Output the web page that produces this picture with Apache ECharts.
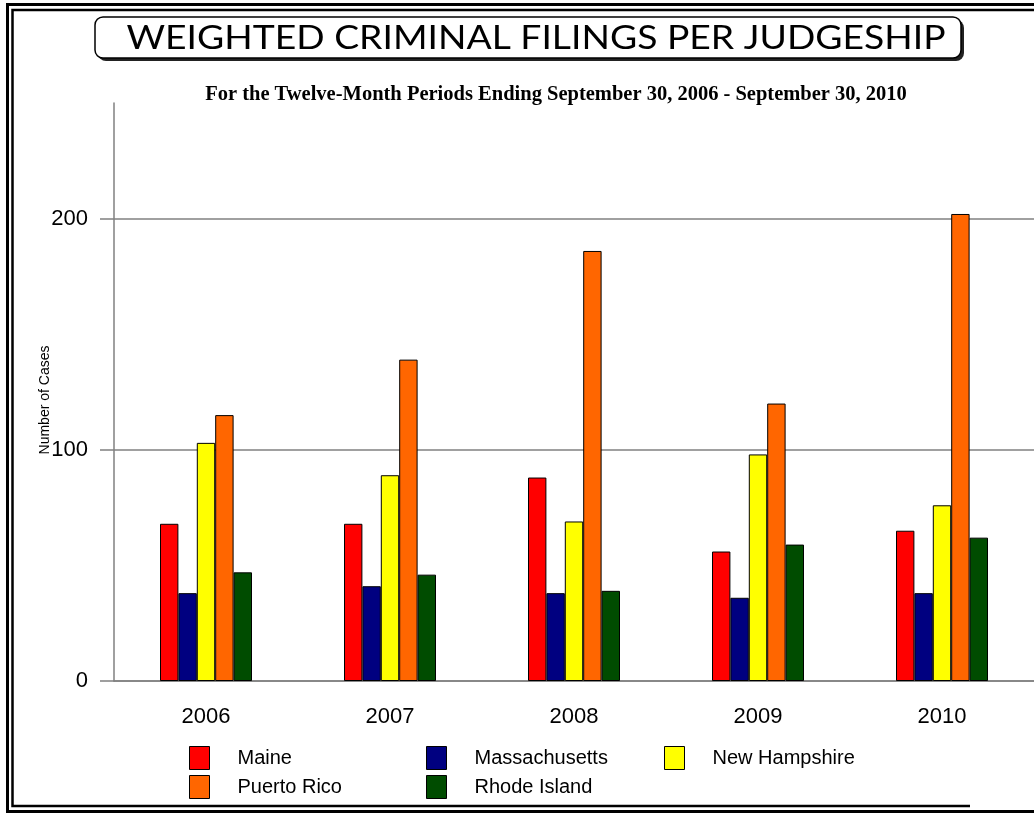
<!DOCTYPE html>
<html><head><meta charset="utf-8">
<script src="https://cdn.jsdelivr.net/npm/echarts@6/dist/echarts.min.js"></script>
<style>html,body{margin:0;padding:0;background:#fff}#c{width:1034px;height:813px}</style>
</head><body><div id="c"></div>
<script>
const categories = ['2006', '2007', '2008', '2009', '2010'];
const maine = [68, 68, 88, 56, 65];
const massachusetts = [38, 41, 38, 36, 38];
const newHampshire = [103, 89, 69, 98, 76];
const puertoRico = [115, 139, 186, 120, 202];
const rhodeIsland = [47, 46, 39, 59, 62];
const yTicks = [0, 100, 200];
const titleText = 'WEIGHTED CRIMINAL FILINGS PER JUDGESHIP';
const subtitleText = 'For the Twelve-Month Periods Ending September 30, 2006 - September 30, 2010';

const seriesDefs = [
  ['Maine', maine, '#FF0000'],
  ['Massachusetts', massachusetts, '#000080'],
  ['New Hampshire', newHampshire, '#FFFF00'],
  ['Puerto Rico', puertoRico, '#FF6600'],
  ['Rhode Island', rhodeIsland, '#004C00']
];

const chart = echarts.init(document.getElementById('c'), null, {renderer: 'canvas'});
const legendBase = {
  orient: 'vertical', top: 741, itemWidth: 20, itemHeight: 23, itemGap: 5,
  icon: 'rect', selectedMode: false,
  textStyle: {fontFamily: 'Liberation Sans, Arial, sans-serif', fontSize: 20, color: '#000', padding: [0, 0, 0, 23]},
  itemStyle: {borderColor: '#000', borderWidth: 1}
};
chart.setOption({
  animation: false,
  backgroundColor: '#fff',
  grid: {left: 114, right: 0, top: 103, bottom: 132, containLabel: false},
  legend: [
    Object.assign({}, legendBase, {left: 184, data: ['Maine', 'Puerto Rico']}),
    Object.assign({}, legendBase, {left: 421, data: ['Massachusetts', 'Rhode Island']}),
    Object.assign({}, legendBase, {left: 659, data: ['New Hampshire']})
  ],
  xAxis: {
    type: 'category', data: categories,
    axisLine: {lineStyle: {color: '#808080', width: 1.5}},
    axisTick: {alignWithLabel: true, length: 9, lineStyle: {color: '#808080', width: 1.5}},
    axisLabel: {color: '#000', fontSize: 22, fontFamily: 'Liberation Sans, Arial, sans-serif', margin: 25}
  },
  yAxis: {
    type: 'value', min: 0, max: 250, interval: 100,
    axisLine: {show: true, lineStyle: {color: '#808080', width: 1.5}},
    axisTick: {show: true, length: 14, customValues: yTicks, lineStyle: {color: '#808080', width: 1.5}},
    axisLabel: {color: '#000', fontSize: 22, fontFamily: 'Liberation Sans, Arial, sans-serif', margin: 26, customValues: yTicks},
    splitLine: {show: true, lineStyle: {color: ['#808080', '#808080', '#808080', 'rgba(0,0,0,0)'], width: 1.5}}
  },
  series: seriesDefs.map(([name, data, color]) => ({
    name, type: 'bar', data,
    barGap: '0%', barCategoryGap: '50%',
    itemStyle: {color, borderColor: '#000', borderWidth: 1}
  })),
  graphic: [
    {type: 'polyline', shape: {points: [[1034, 4.5], [7.5, 4.5], [7.5, 811.5], [1034, 811.5]]}, style: {fill: null, stroke: '#000', lineWidth: 3}},
    {type: 'polyline', shape: {points: [[1034, 10], [12.5, 10], [12.5, 806], [970, 806]]}, style: {fill: null, stroke: '#000', lineWidth: 2.5}},
    {type: 'rect', shape: {x: 98, y: 20, width: 866, height: 41, r: 8}, style: {fill: '#222', stroke: null}},
    {type: 'rect', shape: {x: 95, y: 17, width: 866, height: 41, r: 8}, style: {fill: '#fff', stroke: '#000', lineWidth: 1.5}},
    {type: 'text', x: 536, y: 39, scaleX: 1.165, style: {text: titleText, fill: '#000', font: '32px Lato, sans-serif', align: 'center', verticalAlign: 'middle'}},
    {type: 'text', x: 556, y: 95, style: {text: subtitleText, fill: '#000', font: 'bold 20.5px "Liberation Serif", "Times New Roman", serif', align: 'center', verticalAlign: 'middle'}},
    {type: 'text', x: 45, y: 400, rotation: Math.PI / 2, style: {text: 'Number of Cases', fill: '#000', font: '14px "Liberation Sans", Arial, sans-serif', align: 'center', verticalAlign: 'middle'}}
  ]
});
</script></body></html>
